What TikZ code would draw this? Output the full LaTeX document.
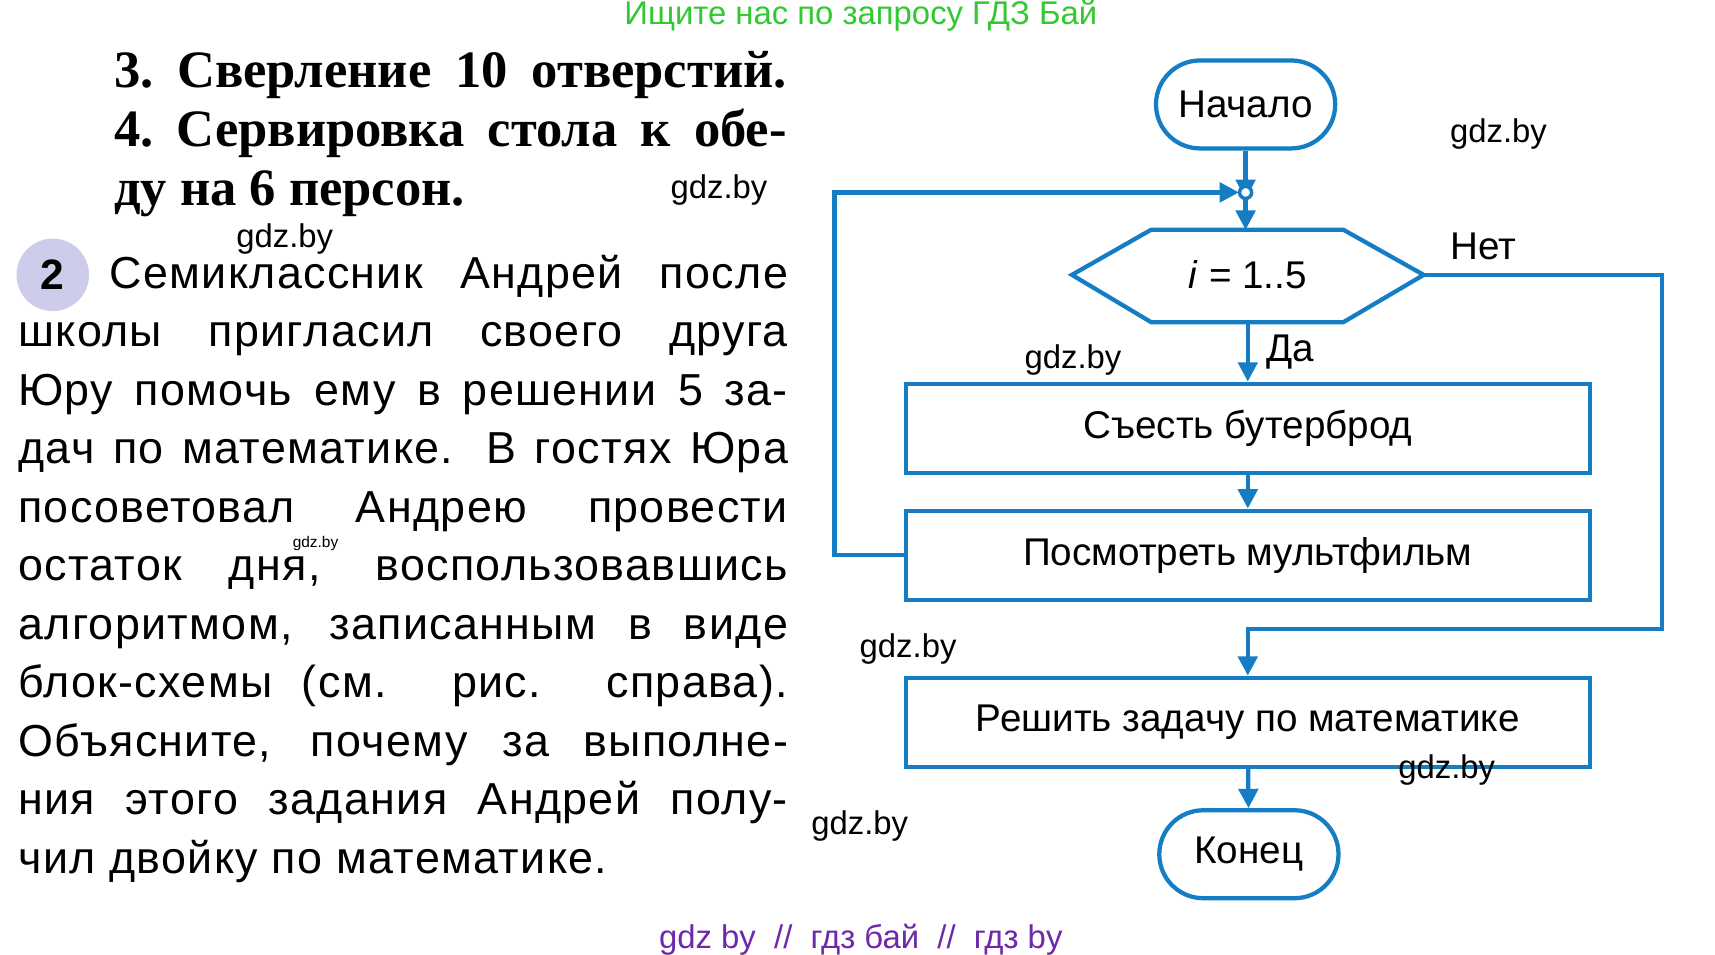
\documentclass[tikz,border=0pt]{standalone}
\usepackage{fontspec}
\setmainfont{Liberation Sans}
\newfontfamily\serifcyr{Liberation Serif}
\usetikzlibrary{shapes.geometric,positioning,arrows.meta}
\definecolor{flowblue}{RGB}{20,125,195}
\definecolor{wm_green}{RGB}{50,200,50}
\definecolor{wm_purple}{RGB}{110,40,170}
\definecolor{num_bg}{RGB}{205,205,235}
\tikzset{
  blk/.style={draw=flowblue, line width=1.1pt, minimum width=6.22cm, minimum height=0.81cm, font=\fontsize{10}{12}\selectfont},
  term/.style={draw=flowblue, line width=1.1pt, rounded corners=0.4cm, minimum width=1.63cm, minimum height=0.8cm, font=\fontsize{10}{12}\selectfont},
  flow/.style={draw=flowblue, line width=1.1pt, -{Triangle[length=5pt,width=5pt]}},
  wm/.style={font=\fontsize{8.5}{10}\selectfont}
}
\begin{document}
\begin{tikzpicture}[y=-1cm]
\useasboundingbox (0,0) rectangle (15.6,8.68);

\node[text=wm_green, font=\fontsize{8.5}{10}\selectfont] (top) at (7.83,0.14) {Ищите нас по запросу ГДЗ Бай};
\node[text=wm_purple, font=\fontsize{8.5}{10}\selectfont] (bottom) at (7.83,8.55) {gdz by \ // \ гдз бай \ // \ гдз by};

% task text
\node[anchor=north west, inner sep=0pt, text width=6.12cm, align=justify,
  font=\serifcyr\bfseries\fontsize{13.6}{15.3}\selectfont] (tasks) at (1.03,0.46)
  {3.~Сверление 10 отверстий.\linebreak 4.~Сервировка стола к обе-\linebreak ду на 6 персон.};
\node[fill=num_bg, circle, minimum size=0.66cm, inner sep=0pt, font=\bfseries\fontsize{11}{12}\selectfont] (num) at (0.48,2.5) {2};
\node[anchor=north west, inner sep=0pt, text width=7cm, align=justify,
  font=\fontsize{11.6}{15.15}\selectfont\addfontfeatures{LetterSpace=3}] (text) at (0.16,2.31)
  {\hspace*{0.83cm}Семиклассник Андрей после\linebreak школы пригласил своего друга\linebreak Юру помочь ему в решении 5 за-\linebreak дач по математике. В гостях Юра\linebreak посоветовал Андрею провести\linebreak остаток дня, воспользовавшись\linebreak алгоритмом, записанным в виде\linebreak блок-схемы (см. рис. справа).\linebreak Объясните, почему за выполне-\linebreak ния этого задания Андрей полу-\linebreak чил двойку по математике.};

% flowchart
\node[term] (start) at (11.33,0.95) {Начало};
\coordinate (join) at (11.33,1.75);
\draw[flowblue, line width=1.1pt] (9.75,2.5) -- (10.47,2.09) -- (12.22,2.09) -- (12.95,2.5) -- (12.22,2.93) -- (10.47,2.93) -- cycle;
\node[font=\fontsize{10}{12}\selectfont] (cond) at (11.35,2.5) {\textit{i} = 1..5};
\coordinate (condE) at (12.95,2.5);
\coordinate (condS) at (11.35,2.93);
\node[blk] (eat) at (11.35,3.895) {Съесть бутерброд};
\node[blk] (watch) at (11.35,5.05) {Посмотреть мультфильм};
\node[blk] (solve) at (11.35,6.57) {Решить задачу по математике};
\node[term] (end) at (11.36,7.77) {Конец};

\draw[flow] (start) -- ([yshift=-0.06cm]join);
\draw[flow] ([yshift=0.06cm]join) -- (11.33,2.09);
\draw[flowblue, line width=0.9pt, fill=white] (join) circle (0.055);
\draw[flow] (watch.west) -- ++(-0.63,0) |- ([xshift=-0.06cm]join);
\draw[flow] (condS) -- node[right, font=\fontsize{10}{12}\selectfont, xshift=1pt] {Да} (eat);
\draw[flow] (eat) -- (watch);
\draw[flow] (condE) -- node[above, font=\fontsize{10}{12}\selectfont, pos=0.25] {Нет} (15.12,2.5) |- (11.35,5.72) -- (solve);
\draw[flow] (solve) -- (end);

% watermarks
\node[wm] (w1) at (6.54,1.73) {gdz.by};
\node[wm] (w2) at (2.59,2.17) {gdz.by};
\node[font=\fontsize{4}{5}\selectfont] (w3) at (2.87,4.94) {gdz.by};
\node[wm] (w4) at (13.63,1.22) {gdz.by};
\node[wm] (w5) at (9.76,3.27) {gdz.by};
\node[wm] (w6) at (8.26,5.9) {gdz.by};
\node[wm] (w7) at (13.16,7.0) {gdz.by};
\node[wm] (w8) at (7.82,7.51) {gdz.by};
\end{tikzpicture}
\end{document}
